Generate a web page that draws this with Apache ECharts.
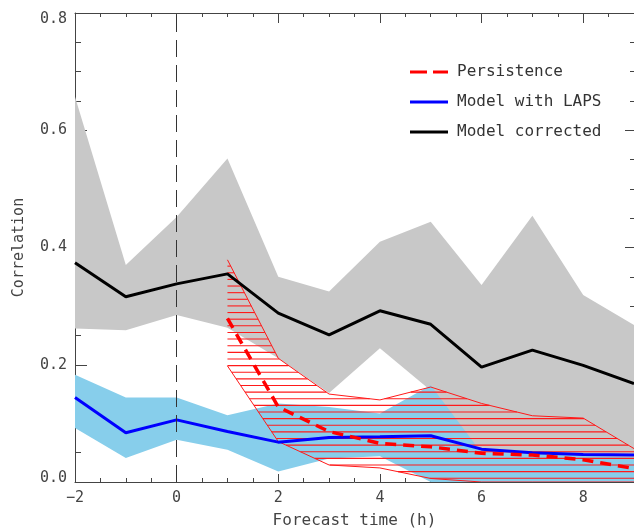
<!DOCTYPE html>
<html>
<head>
<meta charset="utf-8">
<script src="https://cdn.jsdelivr.net/npm/echarts@6/dist/echarts.min.js"></script>
<style>
html, body { margin: 0; padding: 0; background: #fff; }
#main { width: 634px; height: 531px; }
</style>
</head>
<body>
<div id="main"></div>
<script>
// forecast hours
const hours = [-2, -1, 0, 1, 2, 3, 4, 5, 6, 7, 8, 9];

// Model corrected (black) and its spread (gray)
const corrected   = [0.374, 0.316, 0.338, 0.355, 0.288, 0.251, 0.292, 0.269, 0.196, 0.225, 0.199, 0.168];
const correctedHi = [0.657, 0.370, 0.452, 0.552, 0.350, 0.325, 0.410, 0.444, 0.336, 0.454, 0.319, 0.268];
const correctedLo = [0.262, 0.259, 0.285, 0.263, 0.211, 0.152, 0.228, 0.156, 0.040, 0.040, 0.030, 0.020];

// Model with LAPS (blue) and its spread (light blue)
const laps   = [0.144, 0.084, 0.106, 0.086, 0.068, 0.076, 0.077, 0.079, 0.056, 0.050, 0.047, 0.046];
const lapsHi = [0.183, 0.144, 0.144, 0.114, 0.134, 0.128, 0.117, 0.165, 0.050, 0.048, 0.045, 0.042];
const lapsLo = [0.092, 0.041, 0.072, 0.055, 0.018, 0.040, 0.044, 0.000, 0.000, 0.000, 0.000, 0.000];

// Persistence (red dashed) and its spread (hatched), from +1h
const persistence = [null, null, null, 0.279, 0.128, 0.086, 0.066, 0.060, 0.049, 0.046, 0.038, 0.023];
const persHi      = [null, null, null, 0.379, 0.211, 0.150, 0.140, 0.162, 0.134, 0.113, 0.109, 0.057];
const persLo      = [null, null, null, 0.198, 0.069, 0.029, 0.024, 0.006, 0.000, 0.000, 0.000, 0.000];

const FONT = 'DejaVu Sans Mono';
const TXT = '#444';
const AX = '#444';
const HATCH_STEP = 6.63; // px between hatch lines

// t-range on [t0,t1] where a + b*t <= v
function clipLe(r, a, b, v) {
  if (!r) return null;
  let lo = r[0], hi = r[1];
  if (Math.abs(b) < 1e-9) return a <= v ? r : null;
  const t = (v - a) / b;
  if (b > 0) hi = Math.min(hi, t); else lo = Math.max(lo, t);
  return lo <= hi ? [lo, hi] : null;
}

function hatchLines(up, dn, yStart) {
  const out = [];
  const top = Math.min.apply(null, up.map(p => p[1]));
  for (let yy = yStart; yy > top; yy -= HATCH_STEP) {
    let cur = null;
    for (let k = 0; k < up.length - 1; k++) {
      let r = [0, 1];
      r = clipLe(r, up[k][1], up[k + 1][1] - up[k][1], yy);
      r = clipLe(r, -dn[k][1], -(dn[k + 1][1] - dn[k][1]), -yy);
      if (!r) continue;
      const xa = up[k][0] + (up[k + 1][0] - up[k][0]) * r[0];
      const xb = up[k][0] + (up[k + 1][0] - up[k][0]) * r[1];
      if (cur && Math.abs(cur[1] - xa) < 0.5) cur[1] = xb;
      else { if (cur) out.push([cur[0], cur[1], yy]); cur = [xa, xb]; }
    }
    if (cur) out.push([cur[0], cur[1], yy]);
  }
  return out;
}

function band(name, lo, hi, fill, stroke) {
  const idx = hours.map((h, i) => i).filter(i => hi[i] != null);
  return {
    type: 'custom',
    name: name,
    silent: true,
    clip: true,
    data: idx.map(i => [hours[i], lo[i], hi[i]]),
    encode: { x: 0, y: [1, 2] },
    renderItem: function (params, api) {
      if (params.dataIndex !== 0) return null;
      const up = idx.map(i => api.coord([hours[i], hi[i]]));
      const dn = idx.map(i => api.coord([hours[i], lo[i]]));
      const children = [];
      if (fill) {
        children.push({
          type: 'polygon',
          shape: { points: up.concat(dn.slice().reverse()) },
          style: { fill: fill, stroke: null }
        });
      }
      if (stroke) {
        const base = api.coord([0, 0])[1];
        hatchLines(up, dn, base - 3.7).forEach(s => {
          children.push({
            type: 'line',
            shape: { x1: s[0], y1: s[2], x2: s[1], y2: s[2] },
            style: { stroke: stroke, lineWidth: 1.1 }
          });
        });
        children.push({ type: 'polyline', shape: { points: up }, style: { fill: null, stroke: stroke, lineWidth: 1 } });
        children.push({ type: 'polyline', shape: { points: dn }, style: { fill: null, stroke: stroke, lineWidth: 1 } });
      }
      return { type: 'group', children: children };
    }
  };
}

function pairs(arr) {
  return hours.map((h, i) => [h, arr[i]]).filter(d => d[1] != null);
}

const chart = echarts.init(document.getElementById('main'), null, { renderer: 'canvas' });

const xCommon = { type: 'value', min: -2, max: 9, splitLine: { show: false } };
const axisLine = { show: true, onZero: false, lineStyle: { color: AX, width: 1 } };
const noLine = { show: false, onZero: false };
const lblFont = { fontFamily: FONT, fontSize: 15, color: TXT };

chart.setOption({
  backgroundColor: '#fff',
  animation: false,
  grid: { left: 75, right: 0, top: 13, bottom: 49, outerBoundsMode: 'none', containLabel: false },
  legend: {
    orient: 'vertical',
    left: 405,
    top: 59,
    itemWidth: 38,
    itemHeight: 3,
    itemGap: 14,
    textStyle: { fontFamily: FONT, fontSize: 16, color: '#333', padding: [0, 0, 0, 4] },
    data: [
      { name: 'Persistence', icon: 'path://M0,0H17V3H0Z M23,0H38V3H23Z' },
      { name: 'Model with LAPS', icon: 'path://M0,0H38V3H0Z' },
      { name: 'Model corrected', icon: 'path://M0,0H38V3H0Z' }
    ]
  },
  xAxis: [
    Object.assign({}, xCommon, {
      position: 'bottom', interval: 2,
      name: 'Forecast time (h)', nameLocation: 'middle', nameGap: 31,
      nameTextStyle: { fontFamily: FONT, fontSize: 16, color: TXT },
      axisLine: axisLine,
      axisTick: { show: true, inside: true, length: 8, lineStyle: { color: AX } },
      axisLabel: Object.assign({}, lblFont, {
        margin: 9, showMaxLabel: false,
        formatter: v => (v < 0 ? '\u2212' + Math.abs(v) : String(v))
      })
    }),
    Object.assign({}, xCommon, {
      position: 'bottom', interval: 0.5,
      axisLine: noLine,
      axisTick: { show: true, inside: true, length: 4, lineStyle: { color: AX } },
      axisLabel: { show: false }
    }),
    Object.assign({}, xCommon, {
      position: 'top', interval: 2,
      axisLine: axisLine,
      axisTick: { show: true, inside: true, length: 10, lineStyle: { color: AX } },
      axisLabel: { show: false }
    }),
    Object.assign({}, xCommon, {
      position: 'top', interval: 0.5,
      axisLine: noLine,
      axisTick: { show: true, inside: true, length: 4, lineStyle: { color: AX } },
      axisLabel: { show: false }
    })
  ],
  yAxis: [
    {
      type: 'value', position: 'left', min: 0, max: 0.8, interval: 0.2,
      name: 'Correlation', nameLocation: 'middle', nameGap: 48,
      nameTextStyle: { fontFamily: FONT, fontSize: 15, color: TXT },
      splitLine: { show: false },
      axisLine: axisLine,
      axisTick: { show: true, inside: true, length: 12, lineStyle: { color: AX } },
      minorTick: { show: true, splitNumber: 4, length: 6, lineStyle: { color: AX } },
      axisLabel: Object.assign({}, lblFont, {
        margin: 8,
        formatter: v => {
          if (v === 0) return '{lo|0.0}';
          if (Math.abs(v - 0.8) < 1e-6) return '{hi|0.8}';
          return v.toFixed(1);
        },
        rich: {
          lo: Object.assign({}, lblFont, { padding: [0, 0, 8, 0] }),
          hi: Object.assign({}, lblFont, { padding: [12, 0, 0, 0] })
        }
      })
    },
    {
      type: 'value', position: 'right', min: 0, max: 0.8, interval: 0.2,
      splitLine: { show: false },
      axisLine: axisLine,
      axisTick: { show: true, inside: true, length: 9, lineStyle: { color: AX } },
      minorTick: { show: true, splitNumber: 4, length: 4, lineStyle: { color: AX } },
      axisLabel: { show: false }
    }
  ],
  series: [
    band('correctedBand', correctedLo, correctedHi, '#c8c8c8', null),
    band('lapsBand', lapsLo, lapsHi, '#87ceeb', null),
    band('persBand', persLo, persHi, null, '#ff1a1a'),
    {
      name: 'Model corrected', type: 'line', data: pairs(corrected),
      symbol: 'none', color: '#000', lineStyle: { color: '#000', width: 3 },
      markLine: {
        silent: true, symbol: 'none', label: { show: false },
        lineStyle: { color: '#333', width: 1, type: [17, 8] },
        data: [{ xAxis: 0 }]
      }
    },
    {
      name: 'Model with LAPS', type: 'line', data: pairs(laps),
      symbol: 'none', color: '#0000ff', lineStyle: { color: '#0000ff', width: 3 }
    },
    {
      name: 'Persistence', type: 'line', data: pairs(persistence),
      symbol: 'none', color: '#ff0000', lineStyle: { color: '#ff0000', width: 3.5, type: [11, 7] }
    }
  ]
});
</script>
</body>
</html>
